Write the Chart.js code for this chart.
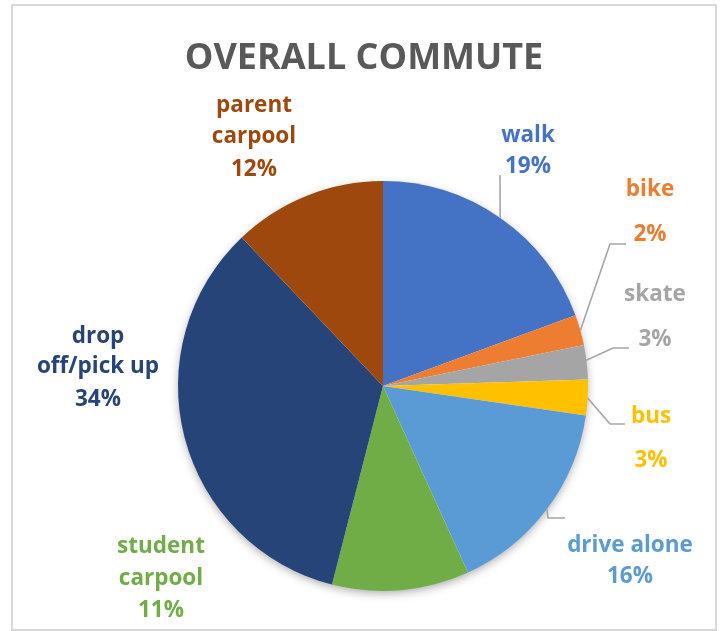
<!DOCTYPE html>
<html>
<head>
<meta charset="utf-8">
<script src="https://cdn.jsdelivr.net/npm/chart.js@4.4.1/dist/chart.umd.min.js"></script>
<style>
  html, body { margin: 0; padding: 0; background: #ffffff; }
  #wrap { width: 724px; height: 631px; }
</style>
</head>
<body>
<div id="wrap"><canvas id="c" width="724" height="631"></canvas></div>
<script>
// ---- data ----
const chartTitle = 'OVERALL COMMUTE';
const categories = ['walk', 'bike', 'skate', 'bus', 'drive alone', 'student carpool', 'drop off/pick up', 'parent carpool'];
const shares = [19.4, 2.4, 2.7, 2.8, 15.9, 10.8, 33.9, 12.1];
const labelText = [['walk'], ['bike'], ['skate'], ['bus'], ['drive alone'], ['student', 'carpool'], ['drop', 'off/pick up'], ['parent', 'carpool']];
const sliceColors = ['#4472C4', '#ED7D31', '#A5A5A5', '#FFC000', '#5B9BD5', '#70AD47', '#264478', '#9E480E'];

// ---- label layout (positions only, not data) ----
const labelLayout = [
  { x: 528, baselines: [142, 173] },
  { x: 650, baselines: [196, 241] },
  { x: 655, baselines: [301, 346] },
  { x: 651, baselines: [423, 467] },
  { x: 630, baselines: [552, 583] },
  { x: 161, baselines: [553, 585, 617] },
  { x: 98,  baselines: [343, 373, 406] },
  { x: 254, baselines: [112, 143, 176] }
];
const leaderLayout = [
  { pts: [[500, 175]], toward: [500, 218] },
  { pts: [[626, 244], [610, 244]], toward: [582, 330] },
  { pts: [[629, 348], [613, 348]], toward: [589, 360] },
  { pts: [[625, 424], [610, 424]], toward: [589, 398] },
  { pts: [[565, 518], [548, 518]], toward: [548, 510] },
  null, null, null
];

const FONT = '"Open Sans", Lato, "DejaVu Sans", sans-serif';

const decorPlugin = {
  id: 'decor',
  beforeDraw(chart) {
    const ctx = chart.ctx;
    ctx.save();
    ctx.fillStyle = '#ffffff';
    ctx.fillRect(0, 0, chart.width, chart.height);
    ctx.strokeStyle = '#d9d9d9';
    ctx.lineWidth = 2;
    ctx.strokeRect(12, 5, 704, 625);
    // title
    ctx.fillStyle = '#595959';
    ctx.font = 'bold 36px ' + FONT;
    ctx.textAlign = 'center';
    ctx.textBaseline = 'alphabetic';
    ctx.fillText(chartTitle, 364, 69);
    ctx.restore();
  },
  beforeDatasetsDraw(chart) {
    const arc = chart.getDatasetMeta(0).data[0];
    if (!arc) return;
    const ctx = chart.ctx;
    ctx.save();
    ctx.shadowColor = 'rgba(0,0,0,0.35)';
    ctx.shadowBlur = 10;
    ctx.shadowOffsetX = 0;
    ctx.shadowOffsetY = 3;
    ctx.fillStyle = '#ffffff';
    ctx.beginPath();
    ctx.arc(arc.x, arc.y, arc.outerRadius - 1, 0, Math.PI * 2);
    ctx.fill();
    ctx.restore();
  },
  afterDatasetsDraw(chart) {
    const ctx = chart.ctx;
    const meta = chart.getDatasetMeta(0);
    const ds = chart.data.datasets[0];
    ctx.save();
    // leader lines
    ctx.strokeStyle = '#A6A6A6';
    ctx.lineWidth = 1.6;
    meta.data.forEach((arc, i) => {
      const L = leaderLayout[i];
      if (!L) return;
      const dx = L.toward[0] - arc.x, dy = L.toward[1] - arc.y;
      const d = Math.sqrt(dx * dx + dy * dy);
      const ex = arc.x + dx / d * arc.outerRadius;
      const ey = arc.y + dy / d * arc.outerRadius;
      ctx.beginPath();
      ctx.moveTo(L.pts[0][0], L.pts[0][1]);
      for (let k = 1; k < L.pts.length; k++) ctx.lineTo(L.pts[k][0], L.pts[k][1]);
      ctx.lineTo(ex, ey);
      ctx.stroke();
    });
    // labels
    ctx.font = 'bold 22.5px ' + FONT;
    ctx.textAlign = 'center';
    ctx.textBaseline = 'alphabetic';
    meta.data.forEach((arc, i) => {
      const lay = labelLayout[i];
      const lines = labelText[i].concat([Math.round(ds.data[i]) + '%']);
      ctx.fillStyle = sliceColors[i];
      lines.forEach((t, k) => ctx.fillText(t, lay.x, lay.baselines[k]));
    });
    ctx.restore();
  }
};

new Chart(document.getElementById('c'), {
  type: 'pie',
  data: {
    labels: categories,
    datasets: [{
      data: shares,
      backgroundColor: sliceColors,
      borderWidth: 0
    }]
  },
  options: {
    responsive: false,
    animation: false,
    layout: { padding: { left: 178, right: 136, top: 181, bottom: 40 } },
    plugins: {
      legend: { display: false },
      title: { display: false },
      tooltip: { enabled: false }
    }
  },
  plugins: [decorPlugin]
});
</script>
</body>
</html>
